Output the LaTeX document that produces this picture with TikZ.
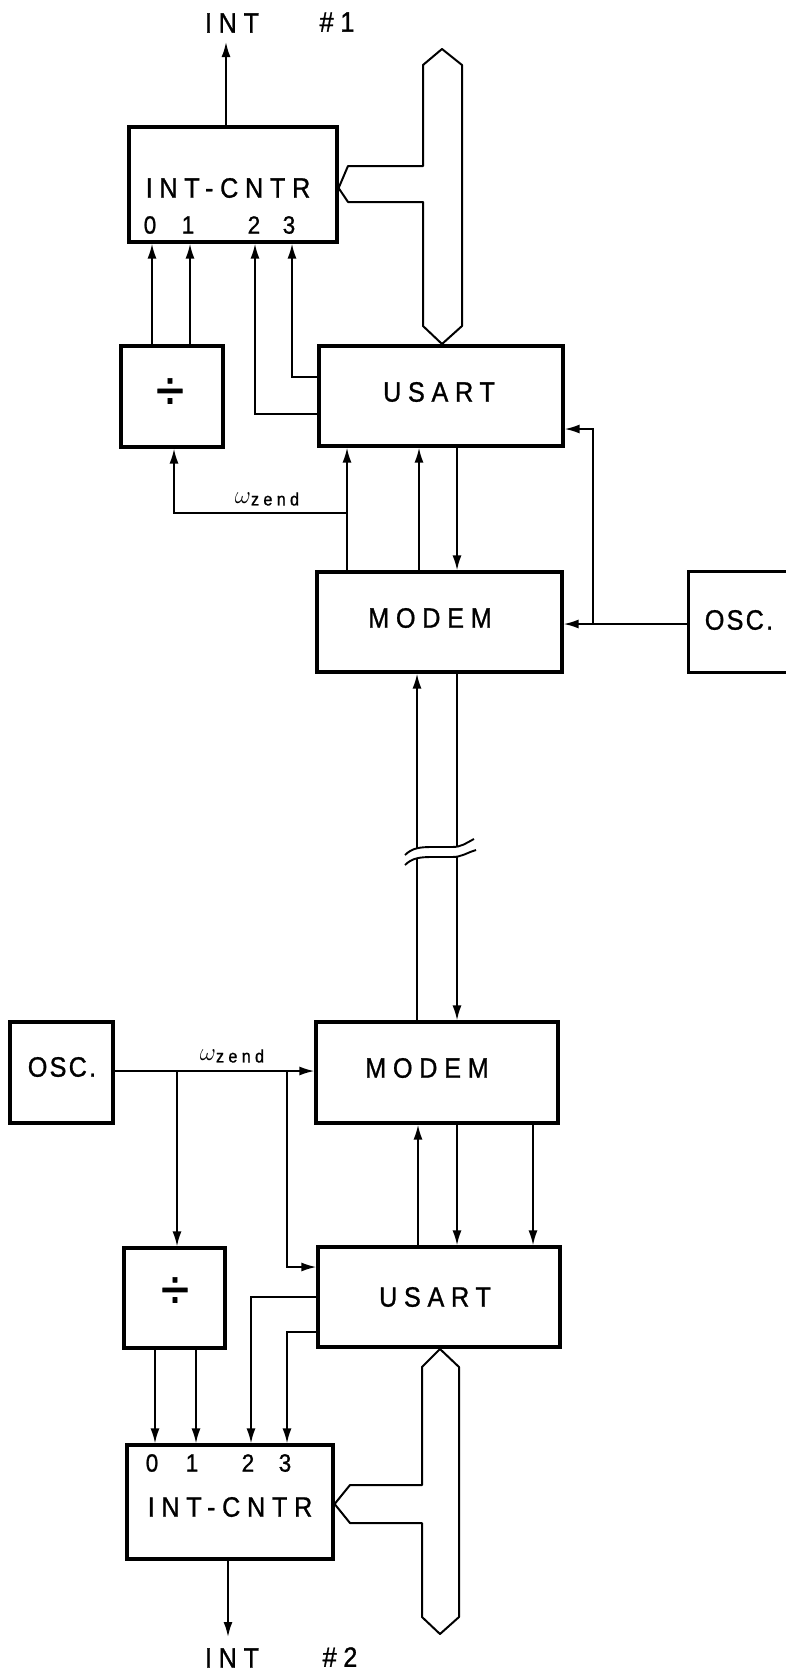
\documentclass[tikz,border=0pt]{standalone}
\usepackage{fontspec}
\setmainfont{Liberation Sans}
\newfontfamily\lblfont[LetterSpace=24,FakeStretch=0.9,FakeBold=1]{Liberation Sans}
\newfontfamily\oscfont[LetterSpace=8,FakeStretch=0.9,FakeBold=1]{Liberation Sans}
\newfontfamily\digfont[FakeStretch=0.9,FakeBold=1]{Liberation Sans}
\usetikzlibrary{arrows.meta}
\begin{document}
\begin{tikzpicture}[x=1pt,y=-1pt,
  box/.style={draw, line width=3.2pt, inner sep=0pt},
  conn/.style={line width=1.9pt},
  arr/.style={conn, -{Latex[length=15pt,width=9pt]}},
  bus/.style={line width=2pt, line join=round},
  lbl/.style={font=\lblfont\fontsize{28}{28}\selectfont, inner sep=0pt},
  osclbl/.style={font=\oscfont\fontsize{28}{28}\selectfont, inner sep=0pt},
  dig/.style={font=\digfont\fontsize{25}{25}\selectfont, inner sep=0pt},
  divsym/.style={font=\digfont\fontsize{56}{56}\selectfont, inner sep=0pt},
  wz/.style={inner sep=0pt, font=\fontsize{30}{30}\selectfont}
]
\useasboundingbox (0,0) rectangle (785,1676);

% ---------- upper station ----------
\node[box, minimum width=208pt, minimum height=115pt] (intc1) at (233,184.5) {};
\node[box, minimum width=102pt, minimum height=101pt] (div1) at (172,396.5) {};
\node[box, minimum width=244pt, minimum height=100pt] (usart1) at (441,396) {};
\node[box, minimum width=245pt, minimum height=100pt] (modem1) at (439.5,622) {};
\node[minimum width=97pt, minimum height=100pt, inner sep=0pt] (osc1) at (737.5,622) {};
\draw[line width=3.2pt] (osc1.north east) -- (osc1.north west) -- (osc1.south west) -- (osc1.south east);

\node[lbl] (int1) at (232,23) {INT};
\node[lbl] (num1) at (337,22) {\#1};
\node[lbl] (intc1t) at (228,188) {INT-CNTR};
\node[dig] (d10) at (150,225) {0};
\node[dig] (d11) at (188,225) {1};
\node[dig] (d12) at (254,225) {2};
\node[dig] (d13) at (289,225) {3};
\node[divsym] (div1t) at (170,394) {÷};
\node[lbl] (usart1t) at (439,392) {USART};
\node[lbl] (modem1t) at (430,618) {MODEM};
\node[osclbl] (osc1t) at (739,620) {OSC.};

\coordinate (out1) at (226,42);
\draw[arr] (intc1.north -| out1) -- (out1);
\draw[arr] (div1.north -| 152,0) -- (intc1.south -| 152,0);
\draw[arr] (div1.north -| 190,0) -- (intc1.south -| 190,0);
\draw[arr] (usart1.west |- 0,377) -| (intc1.south -| 292,0);
\draw[arr] (usart1.west |- 0,414) -| (intc1.south -| 255,0);
\coordinate (wz1) at (347,513);
\draw[arr] (modem1.north -| wz1) -- (usart1.south -| wz1);
\draw[arr] (wz1) -| (div1.south -| 174,0);
\node[wz] (wz1t) at (267,499) {$\omega$\raisebox{-2pt}{\lblfont\fontsize{18}{18}\selectfont zend}};
\draw[arr] (modem1.north -| 419,0) -- (usart1.south -| 419,0);
\draw[arr] (usart1.south -| 457,0) -- (modem1.north -| 457,0);
\coordinate (br1) at (593,624);
\draw[arr] (osc1.west |- br1) -- (modem1.east |- br1);
\draw[arr] (br1) |- (usart1.east |- 0,429);

% bus 1
\draw[bus] (442,49) -- (462,65) -- (462,326) -- (442,344) -- (423,326) -- (423,202)
  -- (348,202) -- (intc1.east |- 0,188) -- (348,166) -- (423,166) -- (423,65) -- cycle;

% ---------- line break ----------
\coordinate (bu1) at (417,848);
\coordinate (bl1) at (417,859);
\coordinate (bu2) at (457,846);
\coordinate (bl2) at (457,857);
\draw[arr] (bu1) -- (modem1.south -| bu1);
\draw[conn] (modem1.south -| bu2) -- (bu2);
\draw[conn] (405,855) .. controls (412,848) and (420,847) .. (432,847) -- (452,847) .. controls (462,847) and (466,843) .. (474,839);
\draw[conn] (405,865) .. controls (412,858) and (420,857) .. (432,857) -- (452,857) .. controls (462,857) and (466,853) .. (476,850);

% ---------- lower station ----------
\node[box, minimum width=103pt, minimum height=101pt] (osc2) at (61.5,1072.5) {};
\node[box, minimum width=242pt, minimum height=101pt] (modem2) at (437,1072.5) {};
\node[box, minimum width=101pt, minimum height=100pt] (div2) at (174.5,1298) {};
\node[box, minimum width=242pt, minimum height=100pt] (usart2) at (439,1297) {};
\node[box, minimum width=206pt, minimum height=114pt] (intc2) at (230,1502) {};

\draw[conn] (modem2.north -| bl1) -- (bl1);
\draw[arr] (bl2) -- (modem2.north -| bl2);

\node[osclbl] (osc2t) at (62,1067) {OSC.};
\node[lbl] (modem2t) at (427,1068) {MODEM};
\node[lbl] (usart2t) at (435,1297) {USART};
\node[divsym] (div2t) at (175,1293) {÷};
\node[dig] (d20) at (152,1463) {0};
\node[dig] (d21) at (192,1463) {1};
\node[dig] (d22) at (248,1463) {2};
\node[dig] (d23) at (285,1463) {3};
\node[lbl] (intc2t) at (230,1507) {INT-CNTR};
\node[lbl] (int2) at (232,1658) {INT};
\node[lbl] (num2) at (340,1657) {\#2};

\coordinate (br2a) at (177,1071);
\coordinate (br2b) at (287,1071);
\draw[arr] (osc2.east |- br2a) -- (modem2.west |- br2a);
\node[wz] (wz2t) at (232,1056) {$\omega$\raisebox{-2pt}{\lblfont\fontsize{18}{18}\selectfont zend}};
\draw[arr] (br2a) -- (div2.north -| br2a);
\draw[arr] (br2b) |- (usart2.west |- 0,1267);
\draw[arr] (usart2.north -| 418,0) -- (modem2.south -| 418,0);
\draw[arr] (modem2.south -| 457,0) -- (usart2.north -| 457,0);
\draw[arr] (modem2.south -| 533,0) -- (usart2.north -| 533,0);
\draw[arr] (usart2.west |- 0,1297) -| (intc2.north -| 251,0);
\draw[arr] (usart2.west |- 0,1332) -| (intc2.north -| 287,0);
\draw[arr] (div2.south -| 155,0) -- (intc2.north -| 155,0);
\draw[arr] (div2.south -| 196,0) -- (intc2.north -| 196,0);
\coordinate (out2) at (228,1637);
\draw[arr] (intc2.south -| out2) -- (out2);

% bus 2
\draw[bus] (440,1349) -- (459,1367) -- (459,1617) -- (440,1634) -- (422,1617) -- (422,1523)
  -- (350,1523) -- (intc2.east |- 0,1504) -- (350,1485) -- (422,1485) -- (422,1367) -- cycle;
\end{tikzpicture}
\end{document}
